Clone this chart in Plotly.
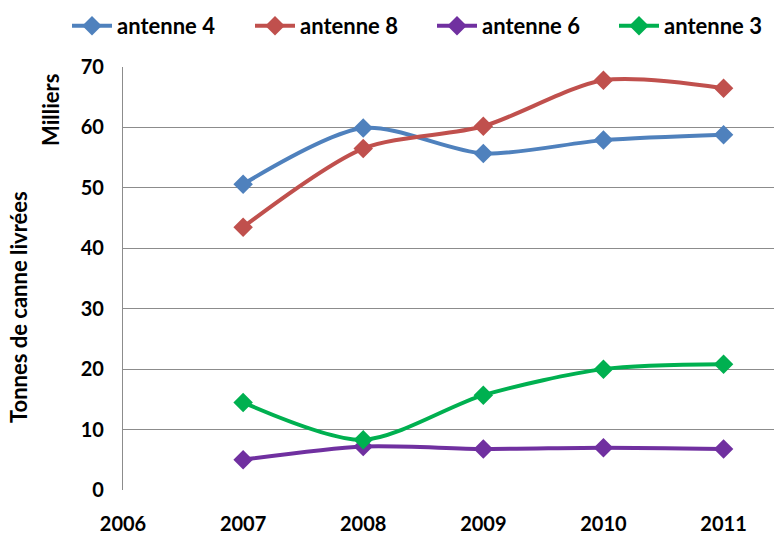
import plotly.graph_objects as go

years = [2007, 2008, 2009, 2010, 2011]
series_names = ["antenne 4", "antenne 8", "antenne 6", "antenne 3"]
antenne4 = [50.6, 59.9, 55.7, 57.9, 58.8]
antenne8 = [43.5, 56.5, 60.2, 67.8, 66.5]
antenne6 = [5.0, 7.2, 6.8, 7.0, 6.8]
antenne3 = [14.5, 8.3, 15.7, 20.0, 20.8]
x_ticks = [2006, 2007, 2008, 2009, 2010, 2011]
y_ticks = [0, 10, 20, 30, 40, 50, 60, 70]

colors = ["#4F81BD", "#C0504D", "#7030A0", "#00B050"]
values = [antenne4, antenne8, antenne6, antenne3]
legend_ids = ["legend", "legend2", "legend3", "legend4"]
legend_x_px = [67, 250, 432, 614]

font_family = "Lato, 'Open Sans', sans-serif"

fig = go.Figure()
for name, vals, col, lid in zip(series_names, values, colors, legend_ids):
    fig.add_trace(go.Scatter(
        x=years, y=vals, name=name, mode="lines+markers",
        line=dict(color=col, width=4, shape="spline", smoothing=0.8),
        marker=dict(symbol="diamond", size=15, color=col),
        legend=lid,
    ))

legend_common = dict(orientation="h", xref="container", xanchor="left",
                     y=1 - 26 / 537, yref="container", yanchor="middle",
                     font=dict(size=22, family=font_family, weight="bold"),
                     itemwidth=40, bgcolor="rgba(0,0,0,0)")
legend_layout = {}
for lid, lx in zip(legend_ids, legend_x_px):
    legend_layout[lid] = dict(legend_common, x=lx / 774)

fig.update_layout(
    width=774, height=537,
    margin=dict(l=123, r=0, t=67, b=47),
    paper_bgcolor="white", plot_bgcolor="white",
    font=dict(family=font_family, size=20, color="black"),
    showlegend=True,
    xaxis=dict(range=[2006, 2011.42], tickvals=x_ticks, ticktext=[str(t) for t in x_ticks],
               showgrid=False, zeroline=False, showline=False, ticks="",
               tickfont=dict(size=20, family=font_family, weight="bold"), ticklabelstandoff=20),
    yaxis=dict(range=[0, 70], tickvals=y_ticks, showgrid=True, gridcolor="#8C8C8C", gridwidth=1.3,
               zeroline=False, showline=True, linecolor="#8C8C8C", linewidth=1.3, ticks="",
               tickfont=dict(size=20, family=font_family, weight="bold"), ticklabelstandoff=14),
    annotations=[
        dict(text="Tonnes de canne livrées", x=18, y=307, xref="paper", yref="paper",
             showarrow=False, textangle=-90, font=dict(size=22, family=font_family, weight="bold")),
        dict(text="Milliers", x=50, y=110, xref="paper", yref="paper",
             showarrow=False, textangle=-90, font=dict(size=22, family=font_family, weight="bold")),
    ],
    **legend_layout,
)

pw = 774 - 123
ph = 537 - 67 - 47
for ann in fig.layout.annotations:
    ann.x = (ann.x - 123) / pw
    ann.y = (537 - 47 - ann.y) / ph
    ann.xanchor = "center"
    ann.yanchor = "middle"

fig.write_html("out.html", config={"displayModeBar": False},
               post_script="document.body.style.margin='0';document.body.style.overflow='hidden';")
